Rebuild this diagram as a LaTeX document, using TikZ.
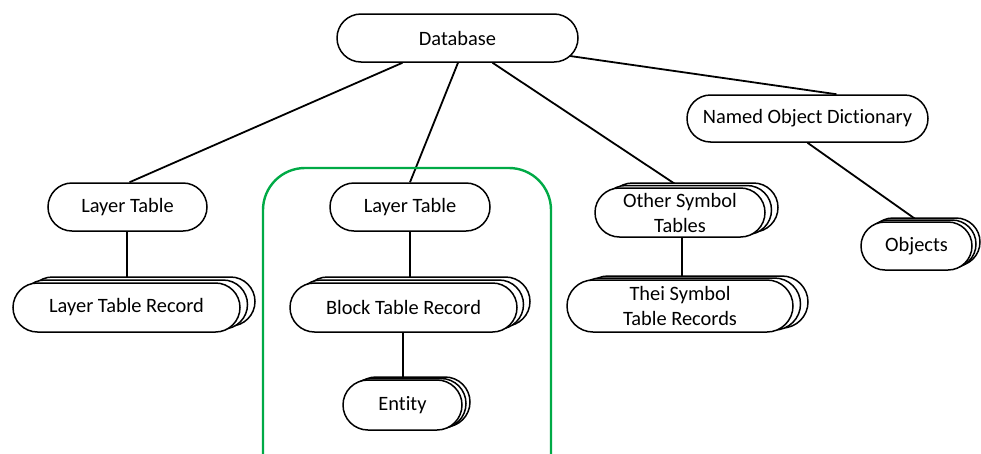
\documentclass[tikz,border=0pt]{standalone}
\usepackage{fontspec}
\setmainfont{Carlito}[RawFeature=-liga]
\usetikzlibrary{shapes.misc,shadows,calc,backgrounds}
\definecolor{boxgreen}{RGB}{0,170,70}
\tikzset{
  pill/.style={rounded rectangle, draw=black, fill=white, line width=1.5pt,
    inner sep=0pt, align=center, font=\fontsize{20.4}{25}\selectfont},
  stackbox/.style 2 args={
    copy shadow={shadow xshift=2*#1, shadow yshift=2*#2, fill=white, draw=black, line width=1.5pt},
    copy shadow={shadow xshift=#1, shadow yshift=#2, fill=white, draw=black, line width=1.5pt}},
  link/.style={draw=black, line width=1.8pt},
}
\begin{document}
\begin{tikzpicture}[x=1pt,y=-1pt]
\useasboundingbox (0,0) rectangle (981,453);
\begin{scope}
\clip (0,0) rectangle (981,453);
\draw[boxgreen, line width=2.4pt, rounded corners=42pt] (263,168) rectangle (551,520);
\end{scope}

\node[pill, minimum width=241pt, minimum height=48pt] (db) at (457.5,38) {Database};
\node[pill, minimum width=241pt, minimum height=47pt] (nod) at (807.5,118.5) {Named Object Dictionary};
\node[pill, minimum width=159pt, minimum height=48pt] (lt1) at (127.5,207) {Layer Table};
\node[pill, minimum width=160pt, minimum height=48pt] (lt2) at (410,207) {Layer Table};
\node[pill, stackbox={6.5pt}{2.5pt}, minimum width=170pt, minimum height=49pt] (ost) at (680,212.5) {Other Symbol\\Tables};
\node[pill, stackbox={7.5pt}{3pt}, minimum width=227pt, minimum height=49pt] (ltr) at (126.5,307.5) {Layer Table Record};
\node[pill, stackbox={6.5pt}{3pt}, minimum width=227pt, minimum height=49pt] (btr) at (403.5,307.5) {Block Table Record};
\node[pill, stackbox={7.5pt}{2pt}, minimum width=226pt, minimum height=52pt] (thei) at (680,306) {Thei Symbol\\Table Records};
\node[pill, stackbox={4pt}{1.5pt}, minimum width=119pt, minimum height=50pt] (ent) at (402.5,405) {Entity};
\node[pill, stackbox={4pt}{2pt}, minimum width=111pt, minimum height=48pt] (obj) at (916.5,246) {Objects};

\begin{scope}[on background layer]
\draw[link] ($(db.south)+(-55,0)$) -- ($(lt1.north)+(2,0)$);
\draw[link] ($(db.south)+(0.5,0)$) -- (lt2.north);
\draw[link] ($(db.south)+(35,0)$) -- (ost.north);
\draw[link] ($(db.center)+(112.5,18)$) -- ($(nod.north)+(29,0)$);
\draw[link] (nod.south) -- ($(obj.north)+(2,0)$);
\draw[link] ($(lt1.south)+(-0.5,0)$) -- ($(lt1.south |- ltr.north)+(-0.5,0)$);
\draw[link] (lt2.south) -- (lt2.south |- btr.north);
\draw[link] ($(btr.south)+(-0.5,0)$) -- ($(btr.south |- ent.north)+(-0.5,0)$);
\draw[link] ($(ost.south)+(2,0)$) -- ($(ost.south |- thei.north)+(2,0)$);
\end{scope}
\end{tikzpicture}
\end{document}
